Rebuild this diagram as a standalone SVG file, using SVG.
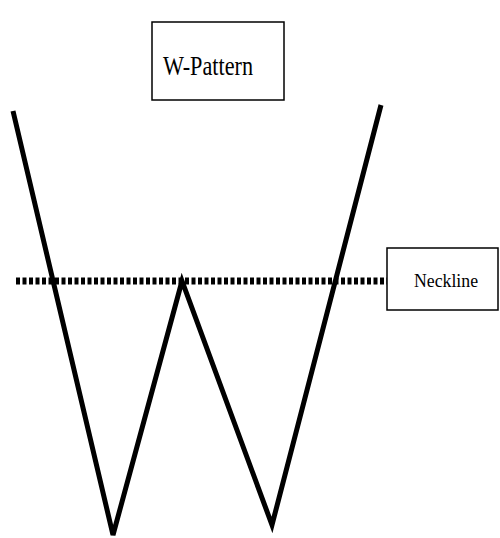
<svg xmlns="http://www.w3.org/2000/svg" width="500" height="538" viewBox="0 0 500 538">
<style>
.box{fill:#fff;stroke:#000;stroke-width:1.5}
.lbl{font-family:"Liberation Serif",serif;fill:#000;text-anchor:middle}
.w{fill:none;stroke:#000;stroke-width:5;stroke-linejoin:miter;stroke-linecap:butt}
.neck{fill:none;stroke:#000;stroke-width:7;stroke-dasharray:4 2.5}
</style>
<rect width="500" height="538" fill="#fff"/>
<g id="connectors">
<line class="neck" x1="16" y1="281" x2="387" y2="281"/>
<polyline class="w" points="13,111 113,535 182,281 272,525 381,105"/>
</g>
<g id="title">
<rect class="box" x="152" y="22" width="132" height="78"/>
<text class="lbl" x="208" y="75" font-size="28" textLength="90" lengthAdjust="spacingAndGlyphs">W-Pattern</text>
</g>
<g id="neckline">
<rect class="box" x="387" y="248" width="111" height="62"/>
<text class="lbl" x="446" y="287" font-size="19" textLength="64" lengthAdjust="spacingAndGlyphs">Neckline</text>
</g>
</svg>
